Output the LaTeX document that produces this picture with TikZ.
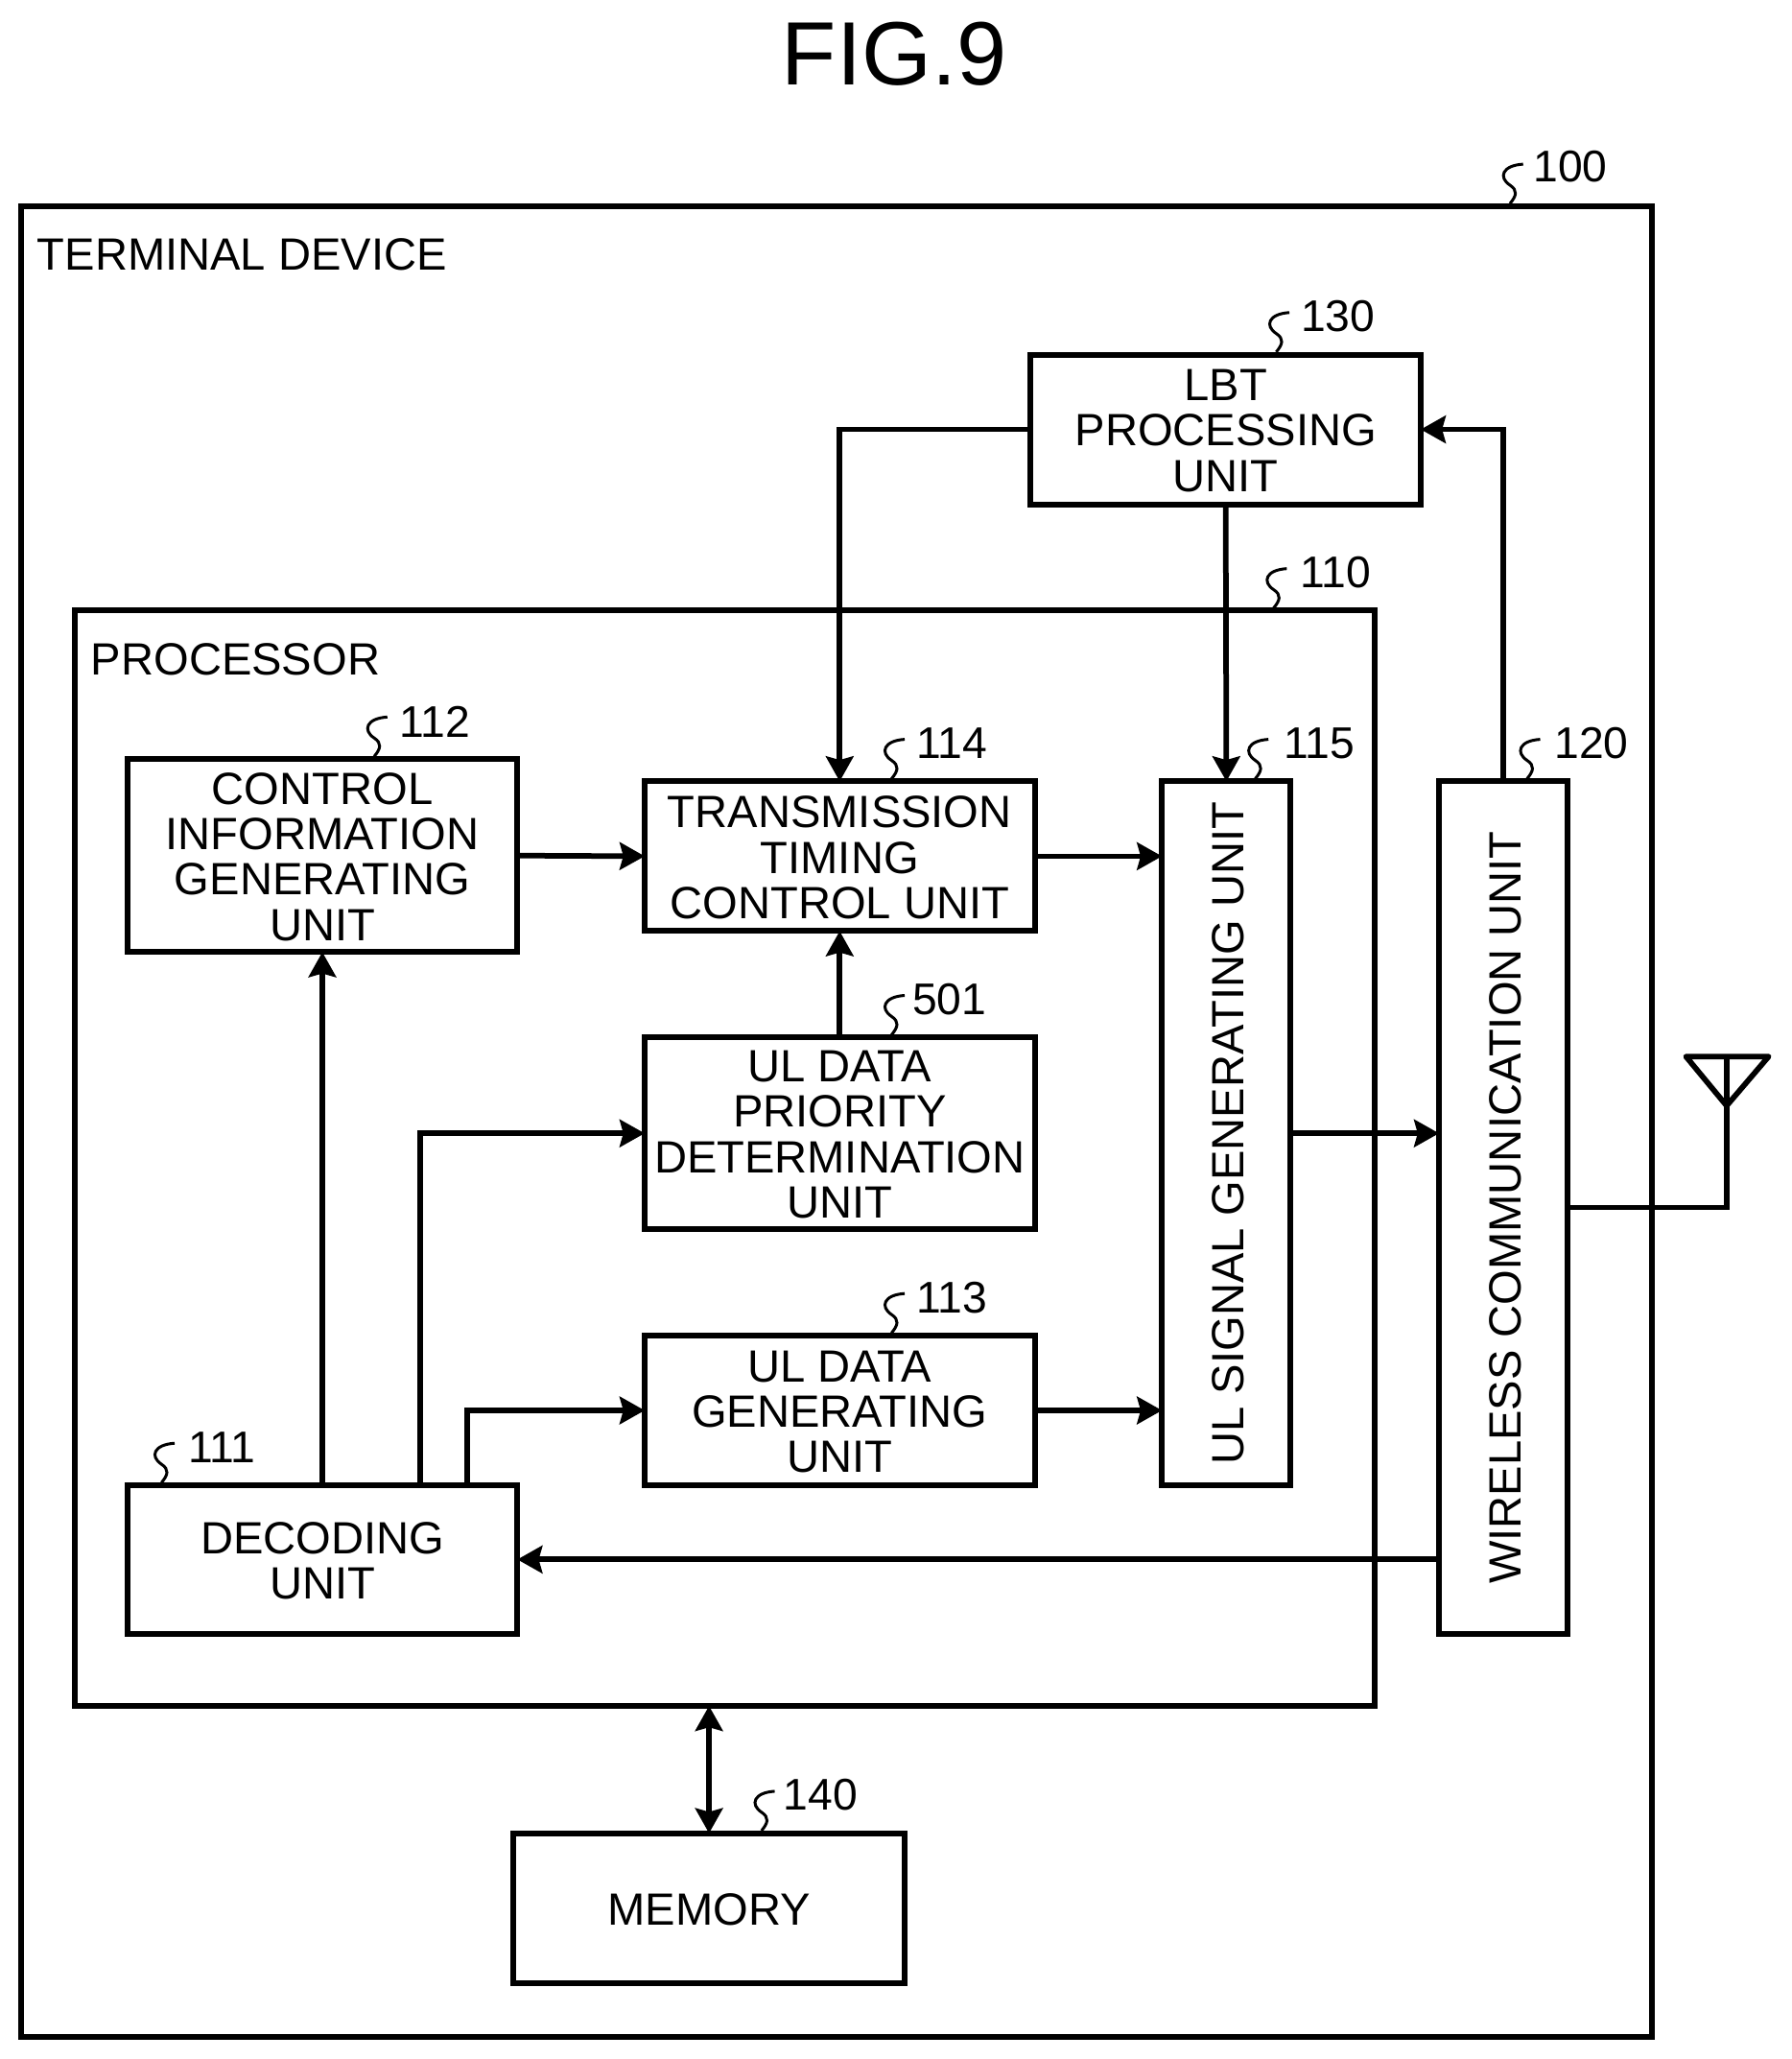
\documentclass[tikz,border=0pt]{standalone}
\usepackage{fontspec}
\setmainfont{Liberation Sans}
\usetikzlibrary{arrows.meta}
\tikzset{
  x=0.5475pt,y=-0.5475pt,
  boxed/.style n args={2}{draw,line width=2.4pt,outer sep=0pt,inner sep=0pt,align=center,line join=miter,
    minimum width=#1*0.5475pt,minimum height=#2*0.5475pt},
  conn/.style={line width=2.3pt,-{Stealth[length=10.4pt,width=11.4pt,inset=1.5pt]}},
  plain/.style={line width=2.3pt},
  txt/.style={font=\fontsize{18.85}{18.9}\selectfont,align=center,inner sep=0pt,yshift=-0.55pt},
  sidetxt/.style={font=\fontsize{18.85}{18.9}\selectfont,align=center,inner sep=0pt,rotate=90,yshift=-0.8pt},
  reflab/.style={font=\fontsize{18.5}{19}\selectfont,inner sep=0pt},
  leader/.style={line width=1.2pt},
}
\newcommand{\squig}[2]{\draw[leader,shift={(#1+2,#2)}] (0,0) .. controls (5,-6) and (6,-10) .. (0,-14) .. controls (-9,-20) and (-6,-29) .. (10,-30);}
\begin{document}
\begin{tikzpicture}
\useasboundingbox (0,0) rectangle (1364.7,1567.9);
\node[font=\fontsize{37.5}{37.5}\selectfont,inner sep=0pt] (title) at (681,41) {FIG.9};
\node[boxed={1242}{1394}] (n100) at (637,854) {};
\node[boxed={990}{834}] (n110) at (552,882) {};
\node[txt,anchor=west] (t100) at (28,193) {TERMINAL DEVICE};
\node[txt,anchor=west] (t110) at (69,501) {PROCESSOR};
\node[boxed={297}{114}] (n130) at (933.5,327) {};
\node[boxed={297}{147}] (n112) at (245.5,651.5) {};
\node[boxed={297}{114}] (n114) at (639.5,652) {};
\node[boxed={297}{146}] (n501) at (639.5,863) {};
\node[boxed={297}{114}] (n113) at (639.5,1074) {};
\node[boxed={98}{536}] (n115) at (934,863) {};
\node[boxed={98}{649}] (n120) at (1145,919.5) {};
\node[boxed={297}{113}] (n111) at (245.5,1187.5) {};
\node[boxed={298}{114}] (n140) at (540,1453) {};
\node[txt] (t130) at (n130) {LBT\\PROCESSING\\UNIT};
\node[txt] (t112) at (n112) {CONTROL\\INFORMATION\\GENERATING\\UNIT};
\node[txt] (t114) at (n114) {TRANSMISSION\\TIMING\\CONTROL UNIT};
\node[txt] (t501) at (n501) {UL DATA\\PRIORITY\\DETERMINATION\\UNIT};
\node[txt] (t113) at (n113) {UL DATA\\GENERATING\\UNIT};
\node[sidetxt] (t115) at (n115) {UL SIGNAL GENERATING UNIT};
\node[sidetxt] (t120) at (n120) {WIRELESS COMMUNICATION UNIT};
\node[txt] (t111) at (n111) {DECODING\\UNIT};
\node[txt] (t140) at (n140) {MEMORY};
% connectors
\coordinate (d1) at (320,1131);
\coordinate (d2) at (356,1131);
\draw[conn] (n130.west) -| (n114.north);
\draw[conn] (n120.north) |- (n130.east);
\draw[conn] (n130.south) -- (n115.north);
\draw[conn] (n112.east) -- (n114.west);
\draw[conn] (n114.east) -- (n114.east -| n115.west);
\draw[conn] (n501.north) -- (n114.south);
\draw[conn] (n115.east) -- (n115.east -| n120.west);
\draw[conn] (n113.east) -- (n113.east -| n115.west);
\draw[conn] (n111.north) -- (n112.south);
\draw[conn] (d1) |- (n501.west);
\draw[conn] (d2) |- (n113.west);
\draw[conn] (n111.east -| n120.west) -- (n111.east);
\draw[line width=2.3pt,{Stealth[length=10.4pt,width=11.4pt,inset=1.5pt]}-{Stealth[length=10.4pt,width=11.4pt,inset=1.5pt]}] (n140.north |- n110.south) -- (n140.north);
% antenna
\coordinate (ant) at (1315,804);
\draw[plain] (n120.east) -- (ant |- n120.east) -- (ant);
\draw[plain,line join=round] (1284,804.5) -- (1347,804.5) -- (1315,842) -- cycle;
% reference numerals
\node[reflab] (r100) at (1196,127) {100}; \squig{1148}{155}
\node[reflab] (r130) at (1019,241) {130}; \squig{970}{268}
\node[reflab] (r110) at (1017,436) {110}; \squig{968}{463}
\node[reflab] (r115) at (1005,566) {115}; \squig{954}{593}
\node[reflab] (r120) at (1212,566) {120}; \squig{1161}{593}
\node[reflab] (r112) at (331,550) {112}; \squig{283}{576}
\node[reflab] (r114) at (725,566) {114}; \squig{677}{593}
\node[reflab] (r501) at (723,761) {501}; \squig{677}{788}
\node[reflab] (r113) at (725,988) {113}; \squig{677}{1015}
\node[reflab] (r111) at (169,1102) {111}; \squig{121}{1129}
\node[reflab] (r140) at (625,1367) {140}; \squig{578}{1394}
\end{tikzpicture}
\end{document}
